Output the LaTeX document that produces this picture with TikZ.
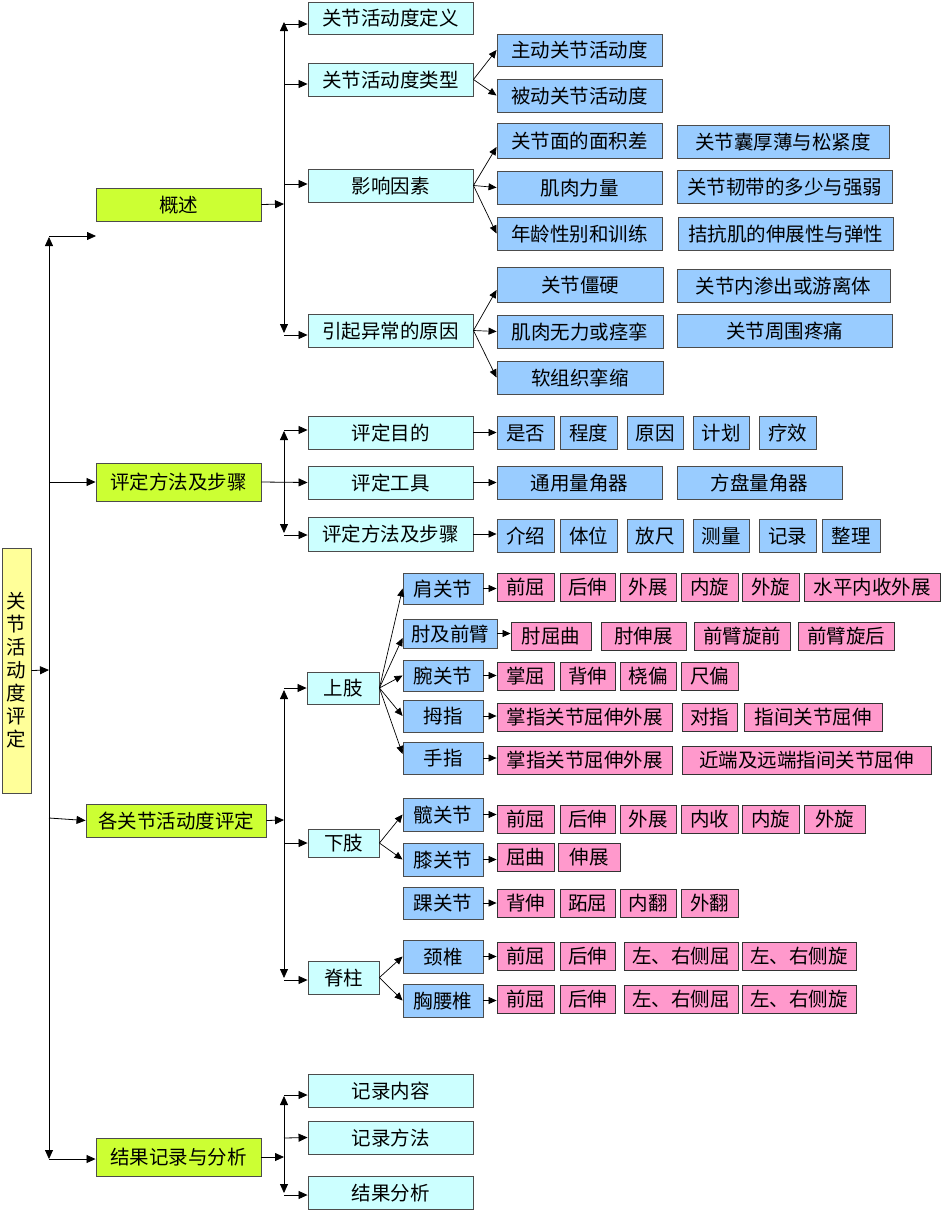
\documentclass[tikz,border=0pt]{standalone}
\usepackage{fontspec}
\newfontfamily\cjk{Noto Sans CJK SC}
\usetikzlibrary{arrows.meta}
\definecolor{cyanc}{HTML}{CCFFFF}
\definecolor{bluec}{HTML}{99CCFF}
\definecolor{pinkc}{HTML}{FF99CC}
\definecolor{greenc}{HTML}{CCFF33}
\definecolor{yellowc}{HTML}{FFFF99}
\newcommand\B[7]{\pgfmathsetmacro\bw{#5-#3}\pgfmathsetmacro\bh{#6-#4}%
  \pgfmathsetmacro\bx{(#3+#5)/2}\pgfmathsetmacro\by{(#4+#6)/2}%
  \node[#1, minimum width=\bw pt, minimum height=\bh pt] (#2) at (\bx,\by) {#7};}
\tikzset{
  boxbase/.style={draw=black!70, line width=0.9pt, inner sep=0pt,
    font=\cjk\fontsize{19.5}{23}\selectfont},
  box/.style={boxbase, text height=16pt, text depth=1pt},
  cy/.style={box, fill=cyanc},
  bl/.style={box, fill=bluec},
  pk/.style={box, fill=pinkc, draw=black!80},
  gr/.style={box, fill=greenc},
  rt/.style={boxbase, fill=yellowc, align=center},
  arr/.style={-{Triangle[length=9pt,width=8pt]}, line width=0.8pt},
  arrs/.style={-{Triangle[length=8pt,width=7pt]}, line width=0.7pt},
}
\begin{document}
\begin{tikzpicture}[x=1pt,y=-1pt]
\fill[white] (0,0) rectangle (942,1210);
\useasboundingbox (0,0) rectangle (942,1210);
% root and level 1
\B{rt}{root}{2}{548}{31}{793}{关\\节\\活\\动\\度\\评\\定}
\B{gr}{gs}{96}{188}{261}{221}{概述}
\B{gr}{pd}{96}{463}{261}{501}{评定方法及步骤}
\B{gr}{gj}{86}{804}{266}{837}{各关节活动度评定}
\B{gr}{jg}{96}{1138}{261}{1176}{结果记录与分析}
% level 2
\B{cy}{d1}{308}{2}{473}{34}{关节活动度定义}
\B{cy}{d2}{308}{63}{473}{96}{关节活动度类型}
\B{cy}{d3}{308}{169}{473}{202}{影响因素}
\B{cy}{d4}{308}{314}{473}{347}{引起异常的原因}
\B{cy}{e1}{308}{416}{473}{449}{评定目的}
\B{cy}{e2}{308}{466}{473}{499}{评定工具}
\B{cy}{e3}{308}{517}{473}{551}{评定方法及步骤}
\B{cy}{sz}{307}{672}{379}{704}{上肢}
\B{cy}{xz}{308}{829}{379}{857}{下肢}
\B{cy}{jz}{308}{961}{379}{994}{脊柱}
\B{cy}{r1}{308}{1074}{473}{1107}{记录内容}
\B{cy}{r2}{308}{1121}{473}{1154}{记录方法}
\B{cy}{r3}{308}{1176}{473}{1209}{结果分析}
% level 3 blue (概述)
\B{bl}{zd}{497}{34}{662}{66}{主动关节活动度}
\B{bl}{bd}{497}{79}{662}{112}{被动关节活动度}
\B{bl}{f1}{497}{123}{662}{158}{关节面的面积差}
\B{bl}{f2}{497}{171}{662}{204}{肌肉力量}
\B{bl}{f3}{497}{217}{662}{250}{年龄性别和训练}
\B{bl}{f4}{677}{125}{889}{158}{关节囊厚薄与松紧度}
\B{bl}{f5}{677}{170}{892}{203}{关节韧带的多少与强弱}
\B{bl}{f6}{678}{217}{893}{250}{拮抗肌的伸展性与弹性}
\B{bl}{y1}{497}{267}{663}{302}{关节僵硬}
\B{bl}{y2}{497}{315}{663}{348}{肌肉无力或痉挛}
\B{bl}{y3}{497}{361}{663}{394}{软组织挛缩}
\B{bl}{y4}{677}{269}{890}{302}{关节内渗出或游离体}
\B{bl}{y5}{677}{314}{892}{347}{关节周围疼痛}
% 评定
\B{bl}{m1}{497}{416}{554}{449}{是否}
\B{bl}{m2}{560}{416}{617}{449}{程度}
\B{bl}{m3}{627}{416}{683}{449}{原因}
\B{bl}{m4}{693}{416}{749}{449}{计划}
\B{bl}{m5}{759}{416}{816}{449}{疗效}
\B{bl}{t1}{497}{466}{662}{499}{通用量角器}
\B{bl}{t2}{677}{466}{842}{499}{方盘量角器}
\B{bl}{s1}{497}{519}{554}{552}{介绍}
\B{bl}{s2}{560}{519}{617}{552}{体位}
\B{bl}{s3}{627}{519}{683}{552}{放尺}
\B{bl}{s4}{693}{519}{749}{552}{测量}
\B{bl}{s5}{759}{519}{816}{552}{记录}
\B{bl}{s6}{822}{519}{880}{552}{整理}
% joints
\B{bl}{ja}{403}{573}{483}{604}{肩关节}
\B{bl}{jb}{403}{619}{497}{648}{肘及前臂}
\B{bl}{jc}{403}{660}{483}{691}{腕关节}
\B{bl}{jd}{403}{700}{483}{732}{拇指}
\B{bl}{je}{403}{742}{483}{774}{手指}
\B{bl}{jf}{403}{798}{483}{831}{髋关节}
\B{bl}{jgk}{403}{843}{483}{876}{膝关节}
\B{bl}{jh}{403}{887}{483}{919}{踝关节}
\B{bl}{ji}{403}{940}{483}{973}{颈椎}
\B{bl}{jj}{403}{984}{483}{1017}{胸腰椎}
% pink rows
\B{pk}{a1}{497}{573}{554}{601}{前屈}
\B{pk}{a2}{560}{573}{615}{601}{后伸}
\B{pk}{a3}{620}{573}{676}{601}{外展}
\B{pk}{a4}{681}{573}{738}{601}{内旋}
\B{pk}{a5}{742}{573}{799}{601}{外旋}
\B{pk}{a6}{804}{573}{940}{601}{水平内收外展}
\B{pk}{b1}{511}{622}{591}{650}{肘屈曲}
\B{pk}{b2}{601}{622}{686}{650}{肘伸展}
\B{pk}{b3}{694}{622}{790}{650}{前臂旋前}
\B{pk}{b4}{798}{622}{894}{650}{前臂旋后}
\B{pk}{c1}{497}{662}{554}{690}{掌屈}
\B{pk}{c2}{560}{662}{615}{690}{背伸}
\B{pk}{c3}{620}{662}{676}{690}{桡偏}
\B{pk}{c4}{681}{662}{738}{690}{尺偏}
\B{pk}{d1p}{497}{703}{672}{731}{掌指关节屈伸外展}
\B{pk}{d2p}{682}{703}{737}{731}{对指}
\B{pk}{d3p}{744}{703}{882}{731}{指间关节屈伸}
\B{pk}{e1p}{497}{746}{672}{774}{掌指关节屈伸外展}
\B{pk}{e2p}{682}{746}{931}{774}{近端及远端指间关节屈伸}
\B{pk}{f1p}{497}{805}{554}{833}{前屈}
\B{pk}{f2p}{560}{805}{615}{833}{后伸}
\B{pk}{f3p}{620}{805}{676}{833}{外展}
\B{pk}{f4p}{681}{805}{738}{833}{内收}
\B{pk}{f5p}{742}{805}{799}{833}{内旋}
\B{pk}{f6p}{804}{805}{865}{833}{外旋}
\B{pk}{g1p}{497}{843}{554}{871}{屈曲}
\B{pk}{g2p}{558}{843}{620}{871}{伸展}
\B{pk}{h1p}{497}{889}{554}{917}{背伸}
\B{pk}{h2p}{560}{889}{615}{917}{跖屈}
\B{pk}{h3p}{620}{889}{676}{917}{内翻}
\B{pk}{h4p}{681}{889}{738}{917}{外翻}
\B{pk}{i1p}{497}{942}{554}{970}{前屈}
\B{pk}{i2p}{560}{942}{615}{970}{后伸}
\B{pk}{i3p}{624}{942}{738}{970}{左、右侧屈}
\B{pk}{i4p}{742}{942}{856}{970}{左、右侧旋}
\B{pk}{k1p}{497}{985}{554}{1013}{前屈}
\B{pk}{k2p}{560}{985}{615}{1013}{后伸}
\B{pk}{k3p}{624}{985}{738}{1013}{左、右侧屈}
\B{pk}{k4p}{742}{985}{856}{1013}{左、右侧旋}
% coordinates
\coordinate (T0) at (49,670);
\coordinate (Ta) at (49,237);
\coordinate (Tb) at (49,1159);
\coordinate (gsfree) at (96,236);
\coordinate (G1) at (284,204);
\coordinate (G2) at (284,482);
\coordinate (G3) at (284,820);
\coordinate (G4) at (284,1157);
% main trunk
\draw[arr] (root.east) -- (T0);
\draw[arr] (T0) -- (Ta);
\draw[arr] (49,236) -- (gsfree);
\draw[arr] (T0) -- (Tb);
\draw[arr] (Tb) -- (jg.west |- Tb);
\draw[arr] (49,482) -- (pd.west);
\draw[arr] (49,818) -- (gj.west);
% group 1
\draw[arr] (gs.east) -- (G1);
\draw[arr] (G1) -- (284,22);
\draw[arr] (284,24) -- (d1.west |- 0,24);
\draw[arr] (284,84) -- (d2.west |- 0,84);
\draw[arr] (284,184) -- (d3.west |- 0,184);
\draw[arr] (G1) -- (284,333);
\draw[arr] (284,335) -- (d4.west |- 0,335);
\draw[arrs] (d2.east) -- (zd.west);
\draw[arrs] (d2.east) -- (bd.west);
\draw[arrs] (d3.east) -- (f1.west |- 0,147);
\draw[arrs] (d3.east) -- (f2.west);
\draw[arrs] (d3.east) -- (f3.west);
\draw[arrs] (d4.east) -- (y1.west |- 0,290);
\draw[arrs] (d4.east) -- (y2.west);
\draw[arrs] (d4.east) -- (y3.west);
% group 2
\draw[arr] (pd.east) -- (e2.west);
\draw[arr] (G2) -- (284,431);
\draw[arr] (284,430) -- (e1.west |- 0,430);
\draw[arr] (G2) -- (284,533);
\draw[arr] (284,535) -- (e3.west |- 0,535);
\draw[arrs] (e1.east) -- (m1.west);
\draw[arrs] (e2.east) -- (t1.west);
\draw[arrs] (e3.east) -- (e3.east -| s1.west);
% group 3
\draw[arr] (gj.east) -- (G3);
\draw[arr] (G3) -- (284,690);
\draw[arr] (284,688) -- (sz.west |- 0,688);
\draw[arr] (284,843) -- (xz.west);
\draw[arr] (G3) -- (284,978);
\draw[arr] (284,980) -- (jz.west |- 0,980);
\draw[arrs] (sz.east) -- (ja.west);
\draw[arrs] (sz.east) -- (jb.west |- 0,638);
\draw[arrs] (sz.east) -- (jc.west);
\draw[arrs] (sz.east) -- (jd.west);
\draw[arrs] (sz.east) -- (je.west |- 0,754);
\draw[arrs] (xz.east) -- (jf.west);
\draw[arrs] (xz.east) -- (jgk.west);
\draw[arrs] (jz.east) -- (ji.west);
\draw[arrs] (jz.east) -- (jj.west);
\draw[arrs] (ja.east) -- (ja.east -| a1.west);
\draw[arrs] (jb.east) -- (jb.east -| b1.west);
\draw[arrs] (jc.east) -- (jc.east -| c1.west);
\draw[arrs] (jd.east) -- (jd.east -| d1p.west);
\draw[arrs] (je.east) -- (je.east -| e1p.west);
\draw[arrs] (jf.east) -- (jf.east -| f1p.west);
\draw[arrs] (jgk.east) -- (jgk.east -| g1p.west);
\draw[arrs] (jh.east) -- (jh.east -| h1p.west);
\draw[arrs] (ji.east) -- (ji.east -| i1p.west);
\draw[arrs] (jj.east) -- (jj.east -| k1p.west);
% group 4
\draw[arr] (jg.east) -- (G4);
\draw[arr] (G4) -- (284,1096);
\draw[arr] (284,1095) -- (r1.west |- 0,1095);
\draw[arr] (284,1138) -- (r2.west);
\draw[arr] (G4) -- (284,1193);
\draw[arr] (284,1195) -- (r3.west |- 0,1195);
\end{tikzpicture}
\end{document}
